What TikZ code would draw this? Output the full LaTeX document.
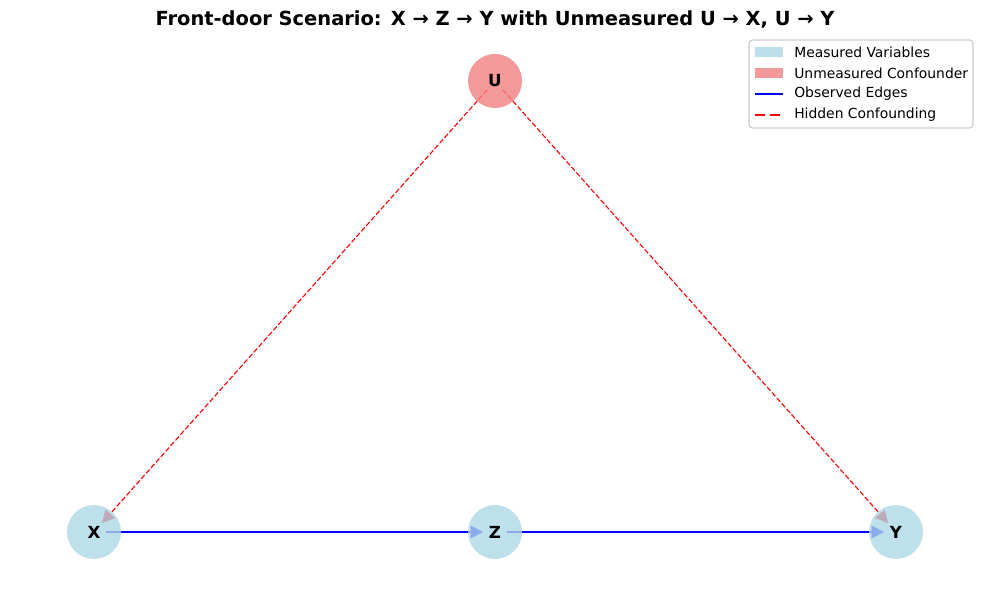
\documentclass[tikz,border=0pt]{standalone}
\usepackage{fontspec}
\setmainfont{DejaVu Sans}
\usetikzlibrary{arrows.meta}
\definecolor{lblue}{RGB}{173,216,230}
\definecolor{lcoral}{RGB}{240,128,128}
\definecolor{legbord}{RGB}{204,204,204}
\tikzset{
  var/.style={circle, minimum size=54*0.72pt, inner sep=0pt, fill opacity=0.8, text opacity=1, font=\fontsize{12}{14}\selectfont\bfseries},
  meas/.style={var, fill=lblue},
  unmeas/.style={var, fill=lcoral},
  obsedge/.style={blue, line width=0.8pt, -{Triangle[length=9pt,width=9pt]}, shorten <=8.6pt, shorten >=8.6pt},
  hidedge/.style={red, line width=0.8pt, dash pattern=on 3.7pt off 1.6pt, -{Triangle[length=9pt,width=9pt,fill=red]}, shorten <=8.6pt, shorten >=8.6pt},
  legtext/.style={anchor=west, inner sep=0pt, font=\fontsize{10}{12}\selectfont},
}
\begin{document}
\begin{tikzpicture}[x=0.72pt,y=-0.72pt]
\useasboundingbox (0,0) rectangle (989,590);
% coordinates for centers
\coordinate (cx) at (94,532);
\coordinate (cz) at (495,532);
\coordinate (cy) at (896,532);
\coordinate (cu) at (495,81);
% edges (under nodes)
\draw[obsedge] (cx) -- (cz);
\draw[obsedge] (cz) -- (cy);
\draw[hidedge] (cu) -- (cx);
\draw[hidedge] (cu) -- (cy);
% nodes
\node[meas] (x) at (cx) {X};
\node[meas] (z) at (cz) {Z};
\node[meas] (y) at (cy) {Y};
\node[unmeas] (u) at (cu) {U};
% title
\node[font=\fontsize{14}{17}\selectfont\bfseries] (title) at (495,19) {Front-door Scenario: X → Z → Y with Unmeasured U → X, U → Y};
% legend
\node[draw=legbord, fill=white, fill opacity=0.8, draw opacity=1, rounded corners=2.5pt, line width=0.8pt, minimum width=224*0.72pt, minimum height=88*0.72pt, inner sep=0pt] (legend) at (861,84) {};
\fill[lblue, fill opacity=0.8] (755,47) rectangle (783,57);
\node[legtext] (l1) at (794,52) {Measured Variables};
\fill[lcoral, fill opacity=0.8] (755,68) rectangle (783,78);
\node[legtext] (l2) at (794,73) {Unmeasured Confounder};
\coordinate (b1) at (755,94); \coordinate (b2) at (783,94);
\draw[blue, line width=2pt] (b1) -- (b2);
\node[legtext] (l3) at (794,94) {Observed Edges};
\coordinate (r1) at (755,115); \coordinate (r2) at (783,115);
\draw[red, line width=2pt, dash pattern=on 7.4pt off 3.2pt] (r1) -- (r2);
\node[legtext] (l4) at (794,115) {Hidden Confounding};
\end{tikzpicture}
\end{document}
